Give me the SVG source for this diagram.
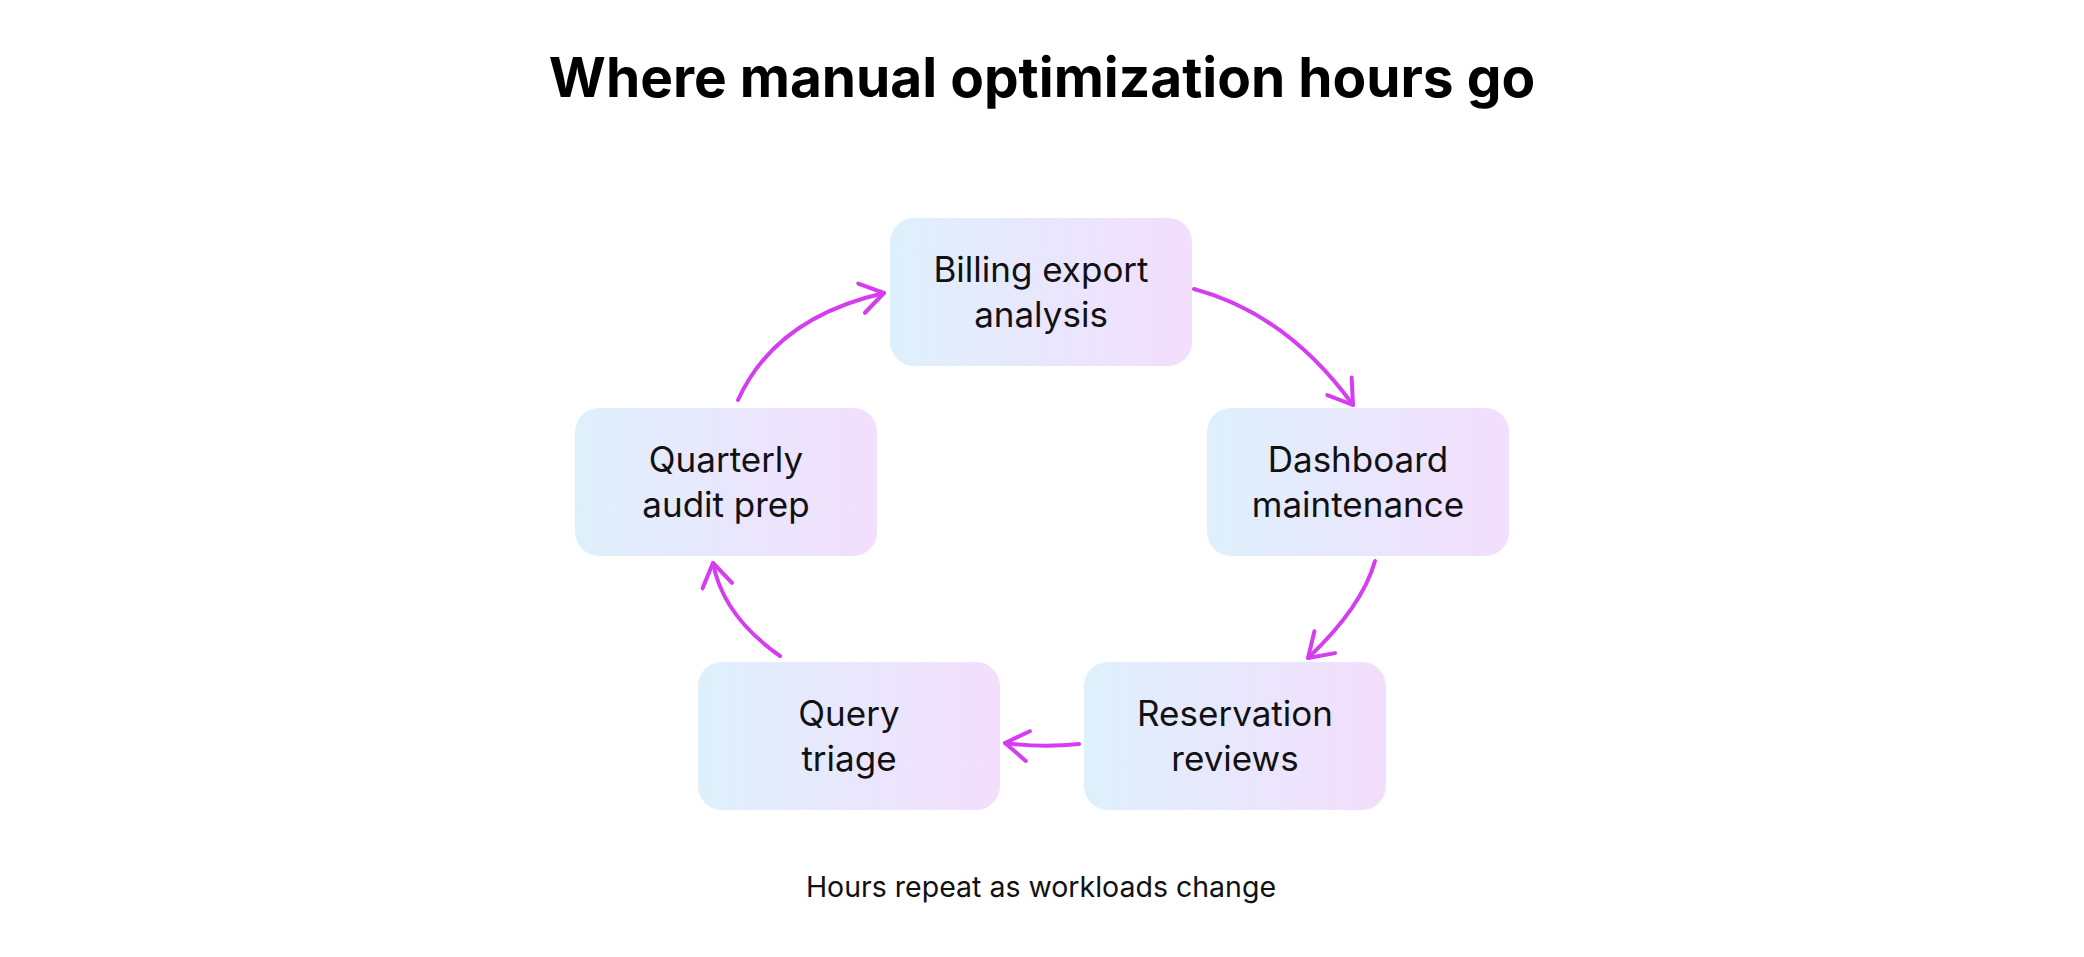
<svg xmlns="http://www.w3.org/2000/svg" width="2084" height="957" viewBox="0 0 2084 957">
<defs>
<linearGradient id="boxFill" x1="0" y1="0" x2="1" y2="0">
<stop offset="0" stop-color="#DEF0FC"/>
<stop offset="1" stop-color="#F3DEFD"/>
</linearGradient>
<marker id="head" markerUnits="userSpaceOnUse" markerWidth="60" markerHeight="60" viewBox="-30 -30 60 60" refX="0" refY="0" orient="auto" overflow="visible">
<path d="M-23,-15 L0,0 L-23,15" fill="none" stroke="#D63CF0" stroke-width="4" stroke-linecap="round" stroke-linejoin="round"/>
</marker>
<style>
.box{fill:url(#boxFill);}
.lbl{font-family:Inter,"Liberation Sans",sans-serif;font-size:35px;fill:#111111;text-anchor:middle;}
.title{font-family:Inter,"Liberation Sans",sans-serif;font-size:55px;font-weight:700;fill:#000000;text-anchor:middle;}
.sub{font-family:Inter,"Liberation Sans",sans-serif;font-size:28.5px;fill:#111111;text-anchor:middle;}
.conn{fill:none;stroke:#D63CF0;stroke-width:4;stroke-linecap:round;marker-end:url(#head);}
</style>
</defs>
<rect width="2084" height="957" fill="#FFFFFF"/>
<text class="title" x="1042" y="97">Where manual optimization hours go</text>
<g id="connectors">
<path class="conn" d="M1194,289 Q1287,314 1353,405"/>
<path class="conn" d="M1375,561 Q1362,607 1308,658"/>
<path class="conn" d="M1079,744 Q1042,748 1005,743"/>
<path class="conn" d="M780,656 Q723,616 713,563"/>
<path class="conn" d="M738,400 Q775,318 884,293"/>
</g>
<g id="node-billing">
<rect class="box" x="890" y="218" width="302" height="148" rx="24"/>
<text class="lbl" x="1041" y="282">Billing export</text>
<text class="lbl" x="1041" y="327">analysis</text>
</g>
<g id="node-dashboard">
<rect class="box" x="1207" y="408" width="302" height="148" rx="24"/>
<text class="lbl" x="1358" y="472">Dashboard</text>
<text class="lbl" x="1358" y="517">maintenance</text>
</g>
<g id="node-reservation">
<rect class="box" x="1084" y="662" width="302" height="148" rx="24"/>
<text class="lbl" x="1235" y="726">Reservation</text>
<text class="lbl" x="1235" y="771">reviews</text>
</g>
<g id="node-query">
<rect class="box" x="698" y="662" width="302" height="148" rx="24"/>
<text class="lbl" x="849" y="726">Query</text>
<text class="lbl" x="849" y="771">triage</text>
</g>
<g id="node-quarterly">
<rect class="box" x="575" y="408" width="302" height="148" rx="24"/>
<text class="lbl" x="726" y="472">Quarterly</text>
<text class="lbl" x="726" y="517">audit prep</text>
</g>
<text class="sub" x="1041" y="897">Hours repeat as workloads change</text>
</svg>
